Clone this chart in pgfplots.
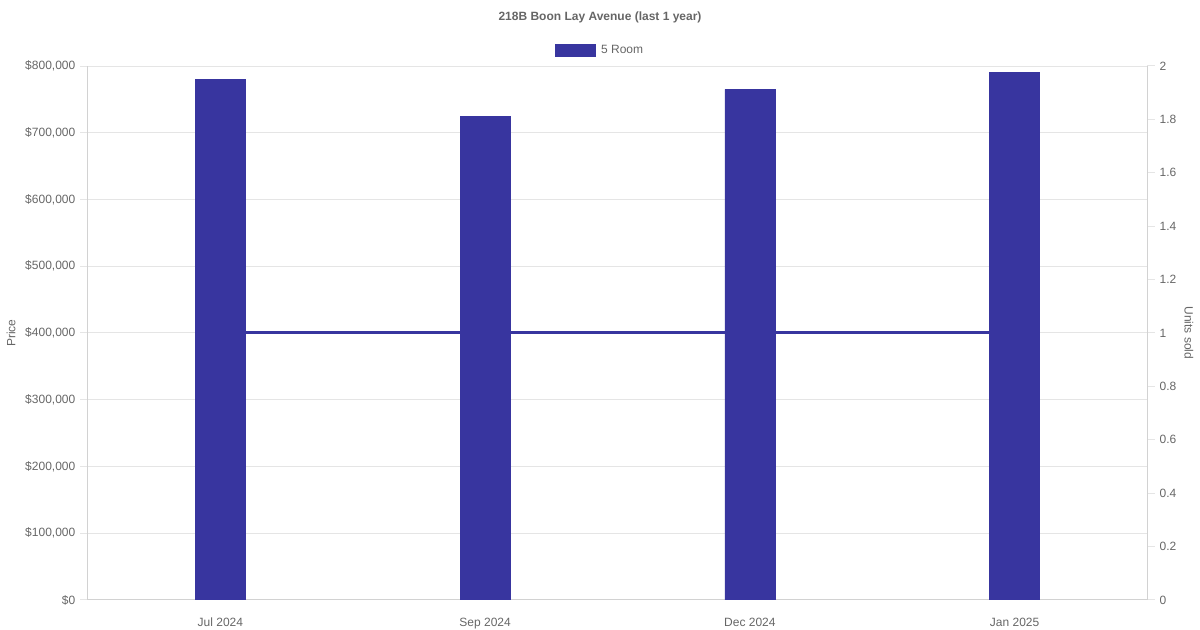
\documentclass[border=0pt]{standalone}
\usepackage{pgfplots}
\pgfplotsset{compat=1.18}
\usepackage{fontspec}
\setmainfont{Liberation Sans}

\definecolor{barc}{RGB}{56,53,159}
\definecolor{textc}{RGB}{102,102,102}
\definecolor{gridc}{RGB}{229,229,229}
\definecolor{axisc}{RGB}{210,210,210}

% 1 px of the reference = 0.75pt
\pgfplotsset{
  base/.style={
    at={(66pt,22.5pt)}, anchor=south west,
    scale only axis, width=794.25pt, height=400.5pt,
    xmin=-0.5, xmax=3.5,
    /pgf/number format/assume math mode=true,
    tick label style={font=\fontsize{9}{10}\selectfont, text=textc},
  }
}

\begin{document}
\begin{tikzpicture}
\path[use as bounding box] (0,0) rectangle (900pt,472.5pt);

% price axis: grid, ticks, labels
\begin{axis}[base,
  ymin=0, ymax=800000,
  axis x line*=bottom, axis y line*=left,
  axis line style={axisc, line width=0.75pt},
  xtick={0,1,2,3},
  xticklabels={Jul 2024,Sep 2024,Dec 2024,Jan 2025},
  xtick style={draw=none},
  xticklabel style={yshift=-4pt, text height=6.5pt, text depth=2pt},
  ytick={0,100000,...,800000},
  yticklabels={{\$0},{\$100,000},{\$200,000},{\$300,000},{\$400,000},{\$500,000},{\$600,000},{\$700,000},{\$800,000}},
  scaled y ticks=false,
  tick align=outside, major tick length=6pt,
  ytick style={gridc, line width=0.75pt},
  ymajorgrids, grid style={gridc, line width=0.75pt},
  ylabel={Price},
  every axis y label/.style={at={(rel axis cs:0,0.5)}, xshift=-57.75pt, rotate=90, anchor=center,
    font=\fontsize{9}{10}\selectfont, text=textc},
]
\end{axis}

% units sold axis: the line, under the bars
\begin{axis}[base,
  ymin=0, ymax=2,
  axis x line=none, axis y line*=right,
  axis line style={axisc, line width=0.75pt},
  ytick={0,0.2,...,2},
  yticklabels={0,0.2,0.4,0.6,0.8,1,1.2,1.4,1.6,1.8,2},
  tick align=outside, major tick length=6pt,
  ytick style={gridc, line width=0.75pt},
  ylabel={Units sold},
  every axis y label/.style={at={(rel axis cs:1,0.5)}, xshift=31.5pt, rotate=-90, anchor=center,
    font=\fontsize{9}{10}\selectfont, text=textc},
]
\addplot[barc, line width=2.25pt] coordinates {(0,1) (1,1) (2,1) (3,1)};
\end{axis}

% bars
\begin{axis}[base,
  ymin=0, ymax=800000,
  hide axis,
  ybar, bar width=37.5pt,
  legend style={at={(0.5,1)}, anchor=center, xshift=-12.75pt, yshift=12pt, draw=none, fill=none,
    font=\fontsize{9}{10}\selectfont, text=textc, inner sep=0pt},
  legend image code/.code={\fill[barc] (0pt,-4.5pt) rectangle (30pt,4.5pt); \path (32pt,0pt);},
]
\addplot[fill=barc, draw=barc] coordinates {(0,780000) (1,724000) (2,765000) (3,790000)};
\legend{5 Room}
\end{axis}

\node[font=\bfseries\fontsize{9}{10}\selectfont, text=textc] at (450pt,459.75pt) {218B Boon Lay Avenue (last 1 year)};
\end{tikzpicture}
\end{document}
